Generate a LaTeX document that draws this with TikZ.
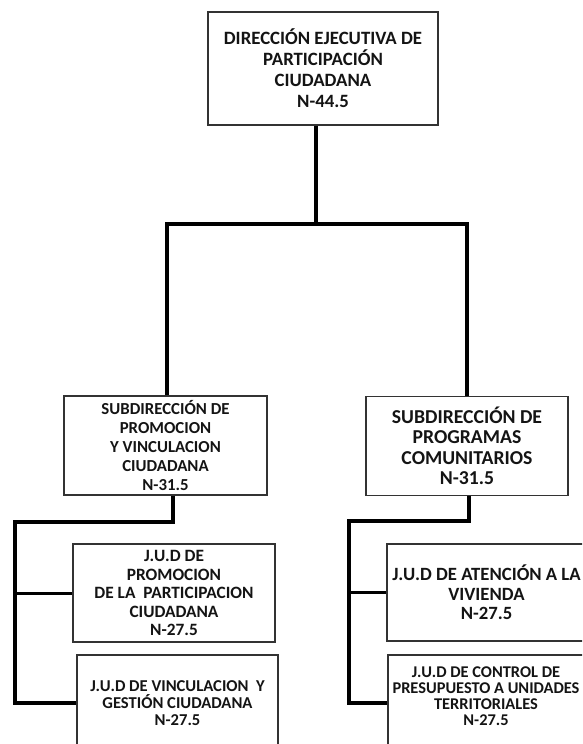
\documentclass[tikz,border=0pt]{standalone}
\usepackage{fontspec}
\setmainfont{Carlito}
\begin{document}
\begin{tikzpicture}[x=1pt,y=-1pt,
  unit/.style={draw=black!80, line width=1.2pt, fill=white, align=center,
    inner sep=0pt, text=black!92},
  fs/.style 2 args={font=\fontsize{#1}{#2}\selectfont\bfseries},
  trunk/.style={line width=4pt, line join=miter, draw=black},
  branch/.style={line width=3pt, draw=black}]
\useasboundingbox (0,0) rectangle (582,744);
\clip (0,0) rectangle (582,744);
\fill[white] (0,0) rectangle (582,744);

% director
\node[unit, fs={18.8}{21}, minimum width=230pt, minimum height=113pt] (top) at (323,68.5)
  {DIRECCIÓN EJECUTIVA DE\\PARTICIPACIÓN\\CIUDADANA\\N-44.5};

% deputy directorates
\node[unit, fs={16.8}{19}, minimum width=203pt, minimum height=99pt] (subL) at (165.5,445.5)
  {SUBDIRECCIÓN DE\\PROMOCION\\Y VINCULACION\\CIUDADANA\\N-31.5};
\node[unit, fs={19.7}{20.5}, minimum width=202pt, minimum height=99pt] (subR) at (467,446)
  {SUBDIRECCIÓN DE\\PROGRAMAS\\COMUNITARIOS\\N-31.5};

% departments, left branch
\node[unit, fs={17.3}{18.5}, minimum width=202pt, minimum height=98pt] (judL1) at (174,593)
  {J.U.D DE\\PROMOCION\\DE LA \ PARTICIPACION\\CIUDADANA\\N-27.5};
\node[unit, fs={16.6}{17}, minimum width=201pt, minimum height=96pt] (judL2) at (177.5,703)
  {J.U.D DE VINCULACION \ Y\\GESTIÓN CIUDADANA\\N-27.5};

% departments, right branch
\node[unit, fs={18.7}{19.5}, minimum width=199pt, minimum height=97pt] (judR1) at (486.5,592.5)
  {J.U.D DE ATENCIÓN A LA\\VIVIENDA\\N-27.5};
\node[unit, minimum width=200pt, minimum height=96pt,
  label={[fs={16.4}{16}, align=center, text=black!92, inner sep=0pt, xshift=-2pt, yshift=6.5pt]center:{J.U.D DE CONTROL DE\\PRESUPUESTO A UNIDADES\\TERRITORIALES\\N-27.5}}] (judR2) at (488,703) {};

% top-level connectors
\coordinate (busL) at (167,224);
\coordinate (busR) at (467,224);
\draw[trunk] ([xshift=-7pt]top.south) -- ([xshift=-7pt]top.south |- busL);
\draw[trunk] (subL.north -| busL) -- (busL) -- (busR) -- (subR.north -| busR);

% left branch connectors
\coordinate (railL) at (15,522);
\draw[trunk] ([xshift=7.5pt]subL.south) |- (railL) -- (railL |- judL2.west) -- (judL2.west);
\draw[branch] (railL |- judL1.west) -- (judL1.west);

% right branch connectors
\coordinate (railR) at (349,521);
\draw[trunk] ([xshift=2pt]subR.south) |- (railR) -- (railR |- judR2.west) -- (judR2.west);
\draw[branch] (railR |- judR1.west) -- (judR1.west);
\end{tikzpicture}
\end{document}
